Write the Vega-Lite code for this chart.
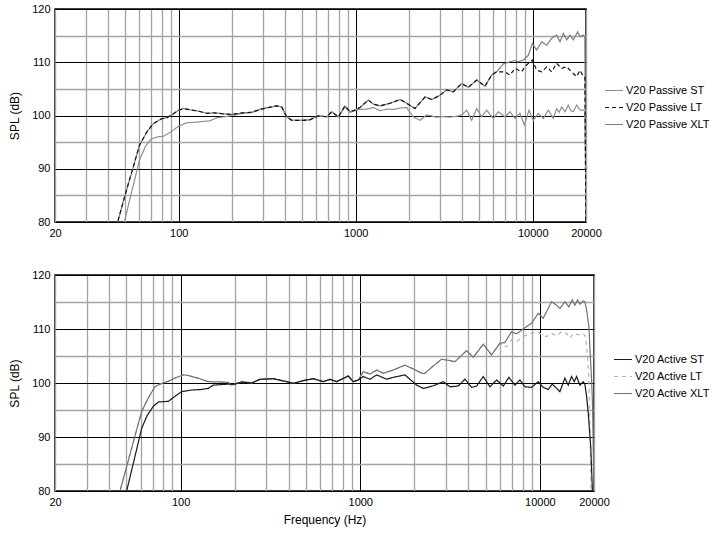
{
"$schema": "https://vega.github.io/schema/vega-lite/v6.json",
"padding": {"left": 7, "top": 2, "right": 2, "bottom": 4},
"config": {
 "font": "Liberation Sans",
 "view": {"stroke": "black", "strokeWidth": 1.5},
 "axis": {"labelFont": "Liberation Sans", "labelFontSize": 11, "labelColor": "black", "titleFont": "Liberation Sans", "titleFontSize": 12, "titleFontWeight": "normal", "titleColor": "black", "ticks": false, "tickSize": 0, "domain": false, "labelPadding": 5, "labelOverlap": false, "labelFlush": false, "gridOpacity": 1},
 "legend": {"labelFont": "Liberation Sans", "labelFontSize": 11, "labelColor": "black", "padding": 0, "rowPadding": 0, "clipHeight": 17, "symbolType": "stroke", "symbolSize": 324, "symbolStrokeWidth": 1.2, "labelOffset": 2}
},
"datasets": {
"passive": [
{"s":"V20 Passive XLT","f":44,"v":79.0},{"s":"V20 Passive XLT","f":45.2,"v":80.0},{"s":"V20 Passive XLT","f":50,"v":85.3},{"s":"V20 Passive XLT","f":55,"v":90.0},{"s":"V20 Passive XLT","f":60,"v":94.4},{"s":"V20 Passive XLT","f":66,"v":96.9},{"s":"V20 Passive XLT","f":72,"v":98.5},{"s":"V20 Passive XLT","f":80,"v":99.4},{"s":"V20 Passive XLT","f":86,"v":99.6},{"s":"V20 Passive XLT","f":93,"v":100.3},{"s":"V20 Passive XLT","f":100,"v":101.0},{"s":"V20 Passive XLT","f":106,"v":101.3},{"s":"V20 Passive XLT","f":115,"v":101.1},{"s":"V20 Passive XLT","f":130,"v":100.8},{"s":"V20 Passive XLT","f":145,"v":100.4},{"s":"V20 Passive XLT","f":160,"v":100.5},{"s":"V20 Passive XLT","f":180,"v":100.3},{"s":"V20 Passive XLT","f":200,"v":100.2},{"s":"V20 Passive XLT","f":230,"v":100.5},{"s":"V20 Passive XLT","f":260,"v":100.6},{"s":"V20 Passive XLT","f":288,"v":101.15},{"s":"V20 Passive XLT","f":321,"v":101.5},{"s":"V20 Passive XLT","f":358,"v":101.8},{"s":"V20 Passive XLT","f":382,"v":101.6},{"s":"V20 Passive XLT","f":407,"v":99.75},{"s":"V20 Passive XLT","f":435,"v":99.1},{"s":"V20 Passive XLT","f":470,"v":99.1},{"s":"V20 Passive XLT","f":506,"v":99.1},{"s":"V20 Passive XLT","f":552,"v":99.2},{"s":"V20 Passive XLT","f":615,"v":99.95},{"s":"V20 Passive XLT","f":686,"v":99.75},{"s":"V20 Passive XLT","f":732,"v":100.7},{"s":"V20 Passive XLT","f":798,"v":99.75},{"s":"V20 Passive XLT","f":869,"v":101.8},{"s":"V20 Passive XLT","f":928,"v":100.7},{"s":"V20 Passive XLT","f":991,"v":101.0},{"s":"V20 Passive XLT","f":1057,"v":101.5},{"s":"V20 Passive XLT","f":1178,"v":102.9},{"s":"V20 Passive XLT","f":1257,"v":102.15},{"s":"V20 Passive XLT","f":1371,"v":101.8},{"s":"V20 Passive XLT","f":1562,"v":102.3},{"s":"V20 Passive XLT","f":1780,"v":103.0},{"s":"V20 Passive XLT","f":1940,"v":102.3},{"s":"V20 Passive XLT","f":2162,"v":101.3},{"s":"V20 Passive XLT","f":2464,"v":103.5},{"s":"V20 Passive XLT","f":2688,"v":103.0},{"s":"V20 Passive XLT","f":2994,"v":103.8},{"s":"V20 Passive XLT","f":3266,"v":104.8},{"s":"V20 Passive XLT","f":3560,"v":104.45},{"s":"V20 Passive XLT","f":3968,"v":106.0},{"s":"V20 Passive XLT","f":4326,"v":105.3},{"s":"V20 Passive XLT","f":4826,"v":106.65},{"s":"V20 Passive XLT","f":5375,"v":105.5},{"s":"V20 Passive XLT","f":5862,"v":107.6},{"s":"V20 Passive XLT","f":6260,"v":108.2},{"s":"V20 Passive XLT","f":6820,"v":109.7},{"s":"V20 Passive XLT","f":7442,"v":110.1},{"s":"V20 Passive XLT","f":7900,"v":110.3},{"s":"V20 Passive XLT","f":8290,"v":110.1},{"s":"V20 Passive XLT","f":8850,"v":110.4},{"s":"V20 Passive XLT","f":9440,"v":111.3},{"s":"V20 Passive XLT","f":9950,"v":113.5},{"s":"V20 Passive XLT","f":10530,"v":112.3},{"s":"V20 Passive XLT","f":11240,"v":113.85},{"s":"V20 Passive XLT","f":12000,"v":113.2},{"s":"V20 Passive XLT","f":12800,"v":114.5},{"s":"V20 Passive XLT","f":13650,"v":115.1},{"s":"V20 Passive XLT","f":14260,"v":113.85},{"s":"V20 Passive XLT","f":14890,"v":115.4},{"s":"V20 Passive XLT","f":15560,"v":114.2},{"s":"V20 Passive XLT","f":16240,"v":115.1},{"s":"V20 Passive XLT","f":16960,"v":114.2},{"s":"V20 Passive XLT","f":17950,"v":115.7},{"s":"V20 Passive XLT","f":18500,"v":114.8},{"s":"V20 Passive XLT","f":19300,"v":115.1},{"s":"V20 Passive XLT","f":19700,"v":114.8},{"s":"V20 Passive XLT","f":20000,"v":82.5},
{"s":"V20 Passive ST","f":48,"v":79.0},{"s":"V20 Passive ST","f":49.3,"v":80.0},{"s":"V20 Passive ST","f":55,"v":86.5},{"s":"V20 Passive ST","f":60,"v":91.6},{"s":"V20 Passive ST","f":65,"v":94.3},{"s":"V20 Passive ST","f":70,"v":95.6},{"s":"V20 Passive ST","f":76,"v":96.0},{"s":"V20 Passive ST","f":82,"v":96.1},{"s":"V20 Passive ST","f":90,"v":96.9},{"s":"V20 Passive ST","f":100,"v":98.0},{"s":"V20 Passive ST","f":110,"v":98.6},{"s":"V20 Passive ST","f":130,"v":98.8},{"s":"V20 Passive ST","f":150,"v":99.0},{"s":"V20 Passive ST","f":165,"v":99.6},{"s":"V20 Passive ST","f":185,"v":99.8},{"s":"V20 Passive ST","f":200,"v":100.0},{"s":"V20 Passive ST","f":230,"v":100.4},{"s":"V20 Passive ST","f":260,"v":100.6},{"s":"V20 Passive ST","f":288,"v":101.15},{"s":"V20 Passive ST","f":321,"v":101.5},{"s":"V20 Passive ST","f":358,"v":101.8},{"s":"V20 Passive ST","f":382,"v":101.6},{"s":"V20 Passive ST","f":407,"v":99.75},{"s":"V20 Passive ST","f":435,"v":99.1},{"s":"V20 Passive ST","f":470,"v":99.1},{"s":"V20 Passive ST","f":506,"v":99.1},{"s":"V20 Passive ST","f":552,"v":99.2},{"s":"V20 Passive ST","f":615,"v":99.95},{"s":"V20 Passive ST","f":686,"v":99.75},{"s":"V20 Passive ST","f":732,"v":100.7},{"s":"V20 Passive ST","f":798,"v":99.75},{"s":"V20 Passive ST","f":869,"v":101.6},{"s":"V20 Passive ST","f":928,"v":100.6},{"s":"V20 Passive ST","f":991,"v":100.9},{"s":"V20 Passive ST","f":1057,"v":101.15},{"s":"V20 Passive ST","f":1160,"v":101.2},{"s":"V20 Passive ST","f":1260,"v":101.5},{"s":"V20 Passive ST","f":1371,"v":100.9},{"s":"V20 Passive ST","f":1500,"v":101.2},{"s":"V20 Passive ST","f":1630,"v":101.15},{"s":"V20 Passive ST","f":1780,"v":101.4},{"s":"V20 Passive ST","f":1940,"v":101.5},{"s":"V20 Passive ST","f":2114,"v":99.75},{"s":"V20 Passive ST","f":2308,"v":99.1},{"s":"V20 Passive ST","f":2518,"v":100.1},{"s":"V20 Passive ST","f":2700,"v":99.9},{"s":"V20 Passive ST","f":2850,"v":99.7},{"s":"V20 Passive ST","f":3100,"v":99.8},{"s":"V20 Passive ST","f":3400,"v":99.7},{"s":"V20 Passive ST","f":3790,"v":99.9},{"s":"V20 Passive ST","f":4000,"v":100.2},{"s":"V20 Passive ST","f":4236,"v":101.0},{"s":"V20 Passive ST","f":4520,"v":99.1},{"s":"V20 Passive ST","f":4826,"v":101.3},{"s":"V20 Passive ST","f":5148,"v":99.75},{"s":"V20 Passive ST","f":5496,"v":101.0},{"s":"V20 Passive ST","f":5986,"v":99.45},{"s":"V20 Passive ST","f":6390,"v":100.7},{"s":"V20 Passive ST","f":6968,"v":99.75},{"s":"V20 Passive ST","f":7442,"v":100.7},{"s":"V20 Passive ST","f":7944,"v":99.45},{"s":"V20 Passive ST","f":8476,"v":100.4},{"s":"V20 Passive ST","f":8962,"v":98.2},{"s":"V20 Passive ST","f":9528,"v":101.0},{"s":"V20 Passive ST","f":10076,"v":99.1},{"s":"V20 Passive ST","f":10752,"v":100.4},{"s":"V20 Passive ST","f":11474,"v":99.45},{"s":"V20 Passive ST","f":12246,"v":101.0},{"s":"V20 Passive ST","f":13072,"v":99.45},{"s":"V20 Passive ST","f":13650,"v":101.3},{"s":"V20 Passive ST","f":14100,"v":100.6},{"s":"V20 Passive ST","f":14580,"v":101.6},{"s":"V20 Passive ST","f":15210,"v":100.7},{"s":"V20 Passive ST","f":15880,"v":101.95},{"s":"V20 Passive ST","f":16400,"v":100.9},{"s":"V20 Passive ST","f":16960,"v":100.7},{"s":"V20 Passive ST","f":17700,"v":101.95},{"s":"V20 Passive ST","f":18500,"v":101.0},{"s":"V20 Passive ST","f":19300,"v":101.0},{"s":"V20 Passive ST","f":19700,"v":100.8},{"s":"V20 Passive ST","f":20000,"v":81},
{"s":"V20 Passive LT","f":44,"v":79.0},{"s":"V20 Passive LT","f":45.2,"v":80.0},{"s":"V20 Passive LT","f":50,"v":85.3},{"s":"V20 Passive LT","f":55,"v":90.0},{"s":"V20 Passive LT","f":60,"v":94.4},{"s":"V20 Passive LT","f":66,"v":96.9},{"s":"V20 Passive LT","f":72,"v":98.5},{"s":"V20 Passive LT","f":80,"v":99.4},{"s":"V20 Passive LT","f":86,"v":99.6},{"s":"V20 Passive LT","f":93,"v":100.3},{"s":"V20 Passive LT","f":100,"v":101.0},{"s":"V20 Passive LT","f":106,"v":101.3},{"s":"V20 Passive LT","f":115,"v":101.1},{"s":"V20 Passive LT","f":130,"v":100.8},{"s":"V20 Passive LT","f":145,"v":100.4},{"s":"V20 Passive LT","f":160,"v":100.5},{"s":"V20 Passive LT","f":180,"v":100.3},{"s":"V20 Passive LT","f":200,"v":100.2},{"s":"V20 Passive LT","f":230,"v":100.5},{"s":"V20 Passive LT","f":260,"v":100.6},{"s":"V20 Passive LT","f":288,"v":101.15},{"s":"V20 Passive LT","f":321,"v":101.5},{"s":"V20 Passive LT","f":358,"v":101.8},{"s":"V20 Passive LT","f":382,"v":101.6},{"s":"V20 Passive LT","f":407,"v":99.75},{"s":"V20 Passive LT","f":435,"v":99.1},{"s":"V20 Passive LT","f":470,"v":99.1},{"s":"V20 Passive LT","f":506,"v":99.1},{"s":"V20 Passive LT","f":552,"v":99.2},{"s":"V20 Passive LT","f":615,"v":99.95},{"s":"V20 Passive LT","f":686,"v":99.75},{"s":"V20 Passive LT","f":732,"v":100.7},{"s":"V20 Passive LT","f":798,"v":99.75},{"s":"V20 Passive LT","f":869,"v":101.8},{"s":"V20 Passive LT","f":928,"v":100.7},{"s":"V20 Passive LT","f":991,"v":101.0},{"s":"V20 Passive LT","f":1057,"v":101.5},{"s":"V20 Passive LT","f":1178,"v":102.9},{"s":"V20 Passive LT","f":1257,"v":102.15},{"s":"V20 Passive LT","f":1371,"v":101.8},{"s":"V20 Passive LT","f":1562,"v":102.3},{"s":"V20 Passive LT","f":1780,"v":103.0},{"s":"V20 Passive LT","f":1940,"v":102.3},{"s":"V20 Passive LT","f":2162,"v":101.3},{"s":"V20 Passive LT","f":2464,"v":103.5},{"s":"V20 Passive LT","f":2688,"v":103.0},{"s":"V20 Passive LT","f":2994,"v":103.8},{"s":"V20 Passive LT","f":3266,"v":104.8},{"s":"V20 Passive LT","f":3560,"v":104.45},{"s":"V20 Passive LT","f":3968,"v":106.0},{"s":"V20 Passive LT","f":4326,"v":105.3},{"s":"V20 Passive LT","f":4826,"v":106.65},{"s":"V20 Passive LT","f":5375,"v":105.5},{"s":"V20 Passive LT","f":5862,"v":107.6},{"s":"V20 Passive LT","f":6260,"v":108.2},{"s":"V20 Passive LT","f":6968,"v":108.2},{"s":"V20 Passive LT","f":7442,"v":107.6},{"s":"V20 Passive LT","f":7944,"v":108.85},{"s":"V20 Passive LT","f":8660,"v":108.2},{"s":"V20 Passive LT","f":9040,"v":109.15},{"s":"V20 Passive LT","f":9650,"v":110.1},{"s":"V20 Passive LT","f":9950,"v":110.4},{"s":"V20 Passive LT","f":10530,"v":108.5},{"s":"V20 Passive LT","f":11240,"v":108.2},{"s":"V20 Passive LT","f":12000,"v":109.15},{"s":"V20 Passive LT","f":12800,"v":108.2},{"s":"V20 Passive LT","f":13650,"v":109.8},{"s":"V20 Passive LT","f":14580,"v":108.85},{"s":"V20 Passive LT","f":15560,"v":109.15},{"s":"V20 Passive LT","f":16600,"v":108.2},{"s":"V20 Passive LT","f":17700,"v":107.3},{"s":"V20 Passive LT","f":18500,"v":108.5},{"s":"V20 Passive LT","f":19300,"v":107.3},{"s":"V20 Passive LT","f":19700,"v":107.2},{"s":"V20 Passive LT","f":20000,"v":79}
],
"active": [
{"s":"V20 Active LT","f":45,"v":79.0},{"s":"V20 Active LT","f":46,"v":80.0},{"s":"V20 Active LT","f":50,"v":84.4},{"s":"V20 Active LT","f":55,"v":89.5},{"s":"V20 Active LT","f":60.7,"v":94.7},{"s":"V20 Active LT","f":66,"v":97.2},{"s":"V20 Active LT","f":72,"v":99.3},{"s":"V20 Active LT","f":77,"v":99.8},{"s":"V20 Active LT","f":85,"v":100.3},{"s":"V20 Active LT","f":93,"v":100.9},{"s":"V20 Active LT","f":103.5,"v":101.5},{"s":"V20 Active LT","f":110,"v":101.4},{"s":"V20 Active LT","f":125,"v":100.9},{"s":"V20 Active LT","f":142.6,"v":100.25},{"s":"V20 Active LT","f":165,"v":100.2},{"s":"V20 Active LT","f":184,"v":100.1},{"s":"V20 Active LT","f":192,"v":99.6},{"s":"V20 Active LT","f":201,"v":99.8},{"s":"V20 Active LT","f":219,"v":100.2},{"s":"V20 Active LT","f":248.7,"v":100.0},{"s":"V20 Active LT","f":276.6,"v":100.68},{"s":"V20 Active LT","f":328,"v":100.8},{"s":"V20 Active LT","f":389,"v":100.25},{"s":"V20 Active LT","f":424,"v":99.94},{"s":"V20 Active LT","f":482,"v":100.44},{"s":"V20 Active LT","f":547,"v":100.8},{"s":"V20 Active LT","f":622,"v":100.25},{"s":"V20 Active LT","f":678,"v":100.68},{"s":"V20 Active LT","f":739,"v":100.25},{"s":"V20 Active LT","f":858,"v":101.3},{"s":"V20 Active LT","f":914,"v":100.25},{"s":"V20 Active LT","f":975,"v":100.56},{"s":"V20 Active LT","f":1039,"v":102.1},{"s":"V20 Active LT","f":1133,"v":101.67},{"s":"V20 Active LT","f":1234,"v":102.4},{"s":"V20 Active LT","f":1342,"v":101.8},{"s":"V20 Active LT","f":1526,"v":102.4},{"s":"V20 Active LT","f":1773,"v":103.3},{"s":"V20 Active LT","f":2061,"v":102.3},{"s":"V20 Active LT","f":2200,"v":101.8},{"s":"V20 Active LT","f":2290,"v":101.8},{"s":"V20 Active LT","f":2496,"v":102.9},{"s":"V20 Active LT","f":2836,"v":104.4},{"s":"V20 Active LT","f":3100,"v":104.2},{"s":"V20 Active LT","f":3366,"v":103.95},{"s":"V20 Active LT","f":3908,"v":106.0},{"s":"V20 Active LT","f":4256,"v":104.75},{"s":"V20 Active LT","f":4836,"v":107.2},{"s":"V20 Active LT","f":5380,"v":105.2},{"s":"V20 Active LT","f":5988,"v":107.35},{"s":"V20 Active LT","f":6110,"v":107.0},{"s":"V20 Active LT","f":6516,"v":106.7},{"s":"V20 Active LT","f":6954,"v":108.0},{"s":"V20 Active LT","f":7414,"v":107.65},{"s":"V20 Active LT","f":8072,"v":108.6},{"s":"V20 Active LT","f":8990,"v":109.2},{"s":"V20 Active LT","f":9786,"v":109.5},{"s":"V20 Active LT","f":10210,"v":108.9},{"s":"V20 Active LT","f":10890,"v":108.6},{"s":"V20 Active LT","f":11610,"v":109.2},{"s":"V20 Active LT","f":12390,"v":108.7},{"s":"V20 Active LT","f":13200,"v":109.5},{"s":"V20 Active LT","f":14080,"v":109.2},{"s":"V20 Active LT","f":14690,"v":108.3},{"s":"V20 Active LT","f":15320,"v":109.2},{"s":"V20 Active LT","f":16340,"v":108.9},{"s":"V20 Active LT","f":17420,"v":109.2},{"s":"V20 Active LT","f":17950,"v":108.6},{"s":"V20 Active LT","f":18400,"v":104.9},{"s":"V20 Active LT","f":18740,"v":100.6},{"s":"V20 Active LT","f":19300,"v":79},
{"s":"V20 Active XLT","f":45,"v":79.0},{"s":"V20 Active XLT","f":46,"v":80.0},{"s":"V20 Active XLT","f":50,"v":84.4},{"s":"V20 Active XLT","f":55,"v":89.5},{"s":"V20 Active XLT","f":60.7,"v":94.7},{"s":"V20 Active XLT","f":66,"v":97.2},{"s":"V20 Active XLT","f":72,"v":99.3},{"s":"V20 Active XLT","f":77,"v":99.8},{"s":"V20 Active XLT","f":85,"v":100.3},{"s":"V20 Active XLT","f":93,"v":100.9},{"s":"V20 Active XLT","f":103.5,"v":101.5},{"s":"V20 Active XLT","f":110,"v":101.4},{"s":"V20 Active XLT","f":125,"v":100.9},{"s":"V20 Active XLT","f":142.6,"v":100.25},{"s":"V20 Active XLT","f":165,"v":100.2},{"s":"V20 Active XLT","f":184,"v":100.1},{"s":"V20 Active XLT","f":192,"v":99.6},{"s":"V20 Active XLT","f":201,"v":99.8},{"s":"V20 Active XLT","f":219,"v":100.2},{"s":"V20 Active XLT","f":248.7,"v":100.0},{"s":"V20 Active XLT","f":276.6,"v":100.68},{"s":"V20 Active XLT","f":328,"v":100.8},{"s":"V20 Active XLT","f":389,"v":100.25},{"s":"V20 Active XLT","f":424,"v":99.94},{"s":"V20 Active XLT","f":482,"v":100.44},{"s":"V20 Active XLT","f":547,"v":100.8},{"s":"V20 Active XLT","f":622,"v":100.25},{"s":"V20 Active XLT","f":678,"v":100.68},{"s":"V20 Active XLT","f":739,"v":100.25},{"s":"V20 Active XLT","f":858,"v":101.3},{"s":"V20 Active XLT","f":914,"v":100.25},{"s":"V20 Active XLT","f":975,"v":100.56},{"s":"V20 Active XLT","f":1039,"v":102.1},{"s":"V20 Active XLT","f":1133,"v":101.67},{"s":"V20 Active XLT","f":1234,"v":102.4},{"s":"V20 Active XLT","f":1342,"v":101.8},{"s":"V20 Active XLT","f":1526,"v":102.4},{"s":"V20 Active XLT","f":1773,"v":103.3},{"s":"V20 Active XLT","f":2061,"v":102.3},{"s":"V20 Active XLT","f":2200,"v":101.8},{"s":"V20 Active XLT","f":2290,"v":101.8},{"s":"V20 Active XLT","f":2496,"v":102.9},{"s":"V20 Active XLT","f":2836,"v":104.4},{"s":"V20 Active XLT","f":3100,"v":104.2},{"s":"V20 Active XLT","f":3366,"v":103.95},{"s":"V20 Active XLT","f":3908,"v":106.0},{"s":"V20 Active XLT","f":4256,"v":104.75},{"s":"V20 Active XLT","f":4836,"v":107.2},{"s":"V20 Active XLT","f":5380,"v":105.2},{"s":"V20 Active XLT","f":5988,"v":107.35},{"s":"V20 Active XLT","f":6380,"v":107.5},{"s":"V20 Active XLT","f":6954,"v":109.5},{"s":"V20 Active XLT","f":7414,"v":109.1},{"s":"V20 Active XLT","f":8072,"v":110.0},{"s":"V20 Active XLT","f":8990,"v":111.1},{"s":"V20 Active XLT","f":9786,"v":112.9},{"s":"V20 Active XLT","f":10430,"v":112.0},{"s":"V20 Active XLT","f":10890,"v":113.2},{"s":"V20 Active XLT","f":11610,"v":115.06},{"s":"V20 Active XLT","f":12390,"v":114.4},{"s":"V20 Active XLT","f":12920,"v":113.8},{"s":"V20 Active XLT","f":13770,"v":115.06},{"s":"V20 Active XLT","f":14500,"v":114.1},{"s":"V20 Active XLT","f":15130,"v":115.4},{"s":"V20 Active XLT","f":15660,"v":114.4},{"s":"V20 Active XLT","f":16200,"v":115.4},{"s":"V20 Active XLT","f":16690,"v":114.6},{"s":"V20 Active XLT","f":17420,"v":115.2},{"s":"V20 Active XLT","f":17790,"v":115.06},{"s":"V20 Active XLT","f":18190,"v":113.5},{"s":"V20 Active XLT","f":18740,"v":110.4},{"s":"V20 Active XLT","f":18960,"v":106.7},{"s":"V20 Active XLT","f":19390,"v":100.6},{"s":"V20 Active XLT","f":19640,"v":95.6},{"s":"V20 Active XLT","f":20000,"v":79},
{"s":"V20 Active ST","f":49,"v":79.0},{"s":"V20 Active ST","f":50.1,"v":80.0},{"s":"V20 Active ST","f":55,"v":85.6},{"s":"V20 Active ST","f":60.7,"v":91.6},{"s":"V20 Active ST","f":65,"v":93.9},{"s":"V20 Active ST","f":70.5,"v":95.7},{"s":"V20 Active ST","f":75.5,"v":96.5},{"s":"V20 Active ST","f":85.5,"v":96.6},{"s":"V20 Active ST","f":91.5,"v":97.35},{"s":"V20 Active ST","f":101.4,"v":98.4},{"s":"V20 Active ST","f":115.3,"v":98.7},{"s":"V20 Active ST","f":130,"v":98.8},{"s":"V20 Active ST","f":142.6,"v":99.0},{"s":"V20 Active ST","f":151.6,"v":99.6},{"s":"V20 Active ST","f":184,"v":99.8},{"s":"V20 Active ST","f":201,"v":99.8},{"s":"V20 Active ST","f":219,"v":100.2},{"s":"V20 Active ST","f":248.7,"v":100.0},{"s":"V20 Active ST","f":276.6,"v":100.68},{"s":"V20 Active ST","f":328,"v":100.8},{"s":"V20 Active ST","f":389,"v":100.25},{"s":"V20 Active ST","f":424,"v":99.94},{"s":"V20 Active ST","f":482,"v":100.44},{"s":"V20 Active ST","f":547,"v":100.8},{"s":"V20 Active ST","f":622,"v":100.25},{"s":"V20 Active ST","f":678,"v":100.68},{"s":"V20 Active ST","f":739,"v":100.25},{"s":"V20 Active ST","f":858,"v":101.3},{"s":"V20 Active ST","f":914,"v":100.25},{"s":"V20 Active ST","f":975,"v":100.56},{"s":"V20 Active ST","f":1039,"v":101.2},{"s":"V20 Active ST","f":1133,"v":100.7},{"s":"V20 Active ST","f":1234,"v":101.5},{"s":"V20 Active ST","f":1403,"v":100.7},{"s":"V20 Active ST","f":1526,"v":101.05},{"s":"V20 Active ST","f":1773,"v":101.5},{"s":"V20 Active ST","f":2061,"v":99.6},{"s":"V20 Active ST","f":2244,"v":99.0},{"s":"V20 Active ST","f":2443,"v":99.3},{"s":"V20 Active ST","f":2604,"v":99.6},{"s":"V20 Active ST","f":2898,"v":100.25},{"s":"V20 Active ST","f":3156,"v":99.3},{"s":"V20 Active ST","f":3510,"v":99.44},{"s":"V20 Active ST","f":3824,"v":100.7},{"s":"V20 Active ST","f":4166,"v":99.2},{"s":"V20 Active ST","f":4444,"v":99.44},{"s":"V20 Active ST","f":4836,"v":101.2},{"s":"V20 Active ST","f":5270,"v":99.3},{"s":"V20 Active ST","f":5740,"v":100.56},{"s":"V20 Active ST","f":6252,"v":99.44},{"s":"V20 Active ST","f":6720,"v":101.05},{"s":"V20 Active ST","f":7260,"v":99.6},{"s":"V20 Active ST","f":7738,"v":100.56},{"s":"V20 Active ST","f":8250,"v":99.3},{"s":"V20 Active ST","f":8990,"v":99.2},{"s":"V20 Active ST","f":9786,"v":100.25},{"s":"V20 Active ST","f":10430,"v":99.2},{"s":"V20 Active ST","f":11120,"v":98.8},{"s":"V20 Active ST","f":11710,"v":99.8},{"s":"V20 Active ST","f":12390,"v":99.0},{"s":"V20 Active ST","f":12920,"v":98.4},{"s":"V20 Active ST","f":13770,"v":100.9},{"s":"V20 Active ST","f":14380,"v":99.6},{"s":"V20 Active ST","f":15000,"v":101.2},{"s":"V20 Active ST","f":15530,"v":100.25},{"s":"V20 Active ST","f":16000,"v":101.2},{"s":"V20 Active ST","f":16690,"v":99.6},{"s":"V20 Active ST","f":17420,"v":100.25},{"s":"V20 Active ST","f":17790,"v":99.8},{"s":"V20 Active ST","f":18190,"v":97.5},{"s":"V20 Active ST","f":18580,"v":94.4},{"s":"V20 Active ST","f":19200,"v":88},{"s":"V20 Active ST","f":19600,"v":80},{"s":"V20 Active ST","f":20000,"v":78}
]
},
"vconcat": [
{
 "width": 531, "height": 213,
 "data": {"name": "passive"},
 "mark": {"type": "line", "clip": true, "strokeWidth": 1.2},
 "encoding": {
  "x": {"field": "f", "type": "quantitative", "scale": {"type": "log", "domain": [20, 20000], "nice": false},
   "axis": {"title": null, "values": [20,30,40,50,60,70,80,90,100,200,300,400,500,600,700,800,900,1000,2000,3000,4000,5000,6000,7000,8000,9000,10000,20000],
    "labelExpr": "indexof([20,100,1000,10000,20000], datum.value) >= 0 ? '' + datum.value : ''",
    "gridColor": {"condition": {"test": "datum.value === 100 || datum.value === 1000 || datum.value === 10000", "value": "#000000"}, "value": "#a3a3a3"},
    "gridWidth": {"condition": {"test": "datum.value === 100 || datum.value === 1000 || datum.value === 10000", "value": 1}, "value": 1.3}}},
  "y": {"field": "v", "type": "quantitative", "scale": {"domain": [80, 120], "nice": false, "zero": false},
   "axis": {"title": "SPL (dB)", "titlePadding": 10, "values": [80,85,90,95,100,105,110,115,120],
    "labelExpr": "datum.value % 10 === 0 ? '' + datum.value : ''",
    "gridColor": {"condition": {"test": "datum.value % 10 === 0", "value": "#000000"}, "value": "#a3a3a3"},
    "gridWidth": {"condition": {"test": "datum.value % 10 === 0", "value": 1}, "value": 1.3}}},
  "color": {"field": "s", "type": "nominal", "scale": {"domain": ["V20 Passive ST", "V20 Passive LT", "V20 Passive XLT"], "range": ["#8f8f8f", "#111111", "#7d7d7d"]},
   "legend": {"title": null, "orient": "none", "legendX": 549, "legendY": 73}},
  "strokeDash": {"field": "s", "type": "nominal", "scale": {"domain": ["V20 Passive ST", "V20 Passive LT", "V20 Passive XLT"], "range": [[1, 0], [4, 3], [1, 0]]},
   "legend": {"title": null, "orient": "none", "legendX": 549, "legendY": 73}}
 }
},
{
 "width": 539, "height": 216,
 "data": {"name": "active"},
 "mark": {"type": "line", "clip": true, "strokeWidth": 1.2},
 "encoding": {
  "x": {"field": "f", "type": "quantitative", "scale": {"type": "log", "domain": [20, 20000], "nice": false},
   "axis": {"title": "Frequency (Hz)", "titlePadding": 7, "values": [20,30,40,50,60,70,80,90,100,200,300,400,500,600,700,800,900,1000,2000,3000,4000,5000,6000,7000,8000,9000,10000,20000],
    "labelExpr": "indexof([20,100,1000,10000,20000], datum.value) >= 0 ? '' + datum.value : ''",
    "gridColor": {"condition": {"test": "datum.value === 100 || datum.value === 1000 || datum.value === 10000", "value": "#000000"}, "value": "#a3a3a3"},
    "gridWidth": {"condition": {"test": "datum.value === 100 || datum.value === 1000 || datum.value === 10000", "value": 1}, "value": 1.3}}},
  "y": {"field": "v", "type": "quantitative", "scale": {"domain": [80, 120], "nice": false, "zero": false},
   "axis": {"title": "SPL (dB)", "titlePadding": 10, "values": [80,85,90,95,100,105,110,115,120],
    "labelExpr": "datum.value % 10 === 0 ? '' + datum.value : ''",
    "gridColor": {"condition": {"test": "datum.value % 10 === 0", "value": "#000000"}, "value": "#a3a3a3"},
    "gridWidth": {"condition": {"test": "datum.value % 10 === 0", "value": 1}, "value": 1.3}}},
  "color": {"field": "s", "type": "nominal", "scale": {"domain": ["V20 Active ST", "V20 Active LT", "V20 Active XLT"], "range": ["#1a1a1a", "#b3b3b3", "#737373"]},
   "legend": {"title": null, "orient": "none", "legendX": 558, "legendY": 76}},
  "strokeDash": {"field": "s", "type": "nominal", "scale": {"domain": ["V20 Active ST", "V20 Active LT", "V20 Active XLT"], "range": [[1, 0], [4, 4], [1, 0]]},
   "legend": {"title": null, "orient": "none", "legendX": 558, "legendY": 76}}
 }
}
],
"spacing": 53,
"bounds": "flush",
"resolve": {"scale": {"color": "independent", "strokeDash": "independent"}}
}
